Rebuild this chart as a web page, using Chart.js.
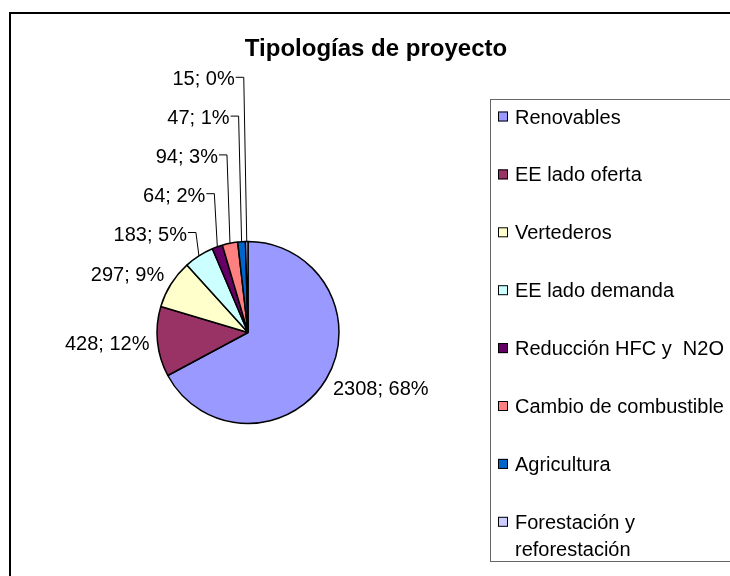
<!DOCTYPE html>
<html>
<head>
<meta charset="utf-8">
<title>Tipologías de proyecto</title>
<script src="https://cdn.jsdelivr.net/npm/chart.js@4.4.1/dist/chart.umd.min.js"></script>
<style>
  html, body { margin: 0; padding: 0; background: #fff; }
  canvas { display: block; }
</style>
</head>
<body>
<canvas id="chart" width="730" height="576"></canvas>
<script>
// datos
const tipologias = [
  "Renovables",
  "EE lado oferta",
  "Vertederos",
  "EE lado demanda",
  "Reducción HFC y  N2O",
  "Cambio de combustible",
  "Agricultura",
  "Forestación y reforestación"
];
const proyectos = [2308, 428, 297, 183, 64, 94, 47, 15];
const porcentajes = [68, 12, 9, 5, 2, 3, 1, 0]; // tal como salen en el gráfico
const colores = ["#9999FF", "#993366", "#FFFFCC", "#CCFFFF", "#660066", "#FF8080", "#0066CC", "#CCCCFF"];

const FUENTE = "'Liberation Sans', Arial, sans-serif";

// marco exterior y título
const marco = {
  id: "marco",
  beforeDraw(chart) {
    const ctx = chart.ctx;
    ctx.save();
    ctx.fillStyle = "#fff";
    ctx.fillRect(0, 0, chart.width, chart.height);
    ctx.strokeStyle = "#000";
    ctx.lineWidth = 2;
    ctx.strokeRect(10, 13, chart.width, chart.height);
    ctx.fillStyle = "#000";
    ctx.font = "bold 24px " + FUENTE;
    ctx.textAlign = "center";
    ctx.textBaseline = "alphabetic";
    ctx.fillText("Tipologías de proyecto", 376, 56);
    ctx.restore();
  }
};

// etiquetas "valor; %" con líneas guía para los sectores chicos
const etiquetas = {
  id: "etiquetas",
  afterDatasetsDraw(chart) {
    const ctx = chart.ctx;
    const arcs = chart.getDatasetMeta(0).data;
    const total = proyectos.reduce((a, b) => a + b, 0);
    const cx = arcs[0].x;
    const cy = arcs[0].y;
    const r = arcs[0].outerRadius;
    ctx.save();
    ctx.font = "20px " + FUENTE;
    ctx.fillStyle = "#000";
    ctx.strokeStyle = "#000";
    ctx.lineWidth = 1;
    ctx.textBaseline = "alphabetic";

    let fila = 0;
    arcs.forEach((arc, i) => {
      const texto = proyectos[i] + "; " + porcentajes[i] + "%";
      const medio = (arc.startAngle + arc.endAngle) / 2;
      const dx = Math.cos(medio);
      const dy = Math.sin(medio);
      const bx = cx + dx * r;
      const by = cy + dy * r;

      if (proyectos[i] / total >= 0.06) {
        // al lado del borde
        const px = bx + dx * 8;
        const py = by + dy * 8 + dy * 10;
        ctx.textAlign = dx < 0 ? "right" : "left";
        ctx.fillText(texto, px, py + 7);
      } else {
        // apiladas arriba, con línea guía
        const yFila = cy - r - 8 - fila * 38.8;
        const codoX = bx - 3;
        const codoY = yFila - 1;
        ctx.beginPath();
        ctx.moveTo(bx, by);
        ctx.lineTo(codoX, codoY);
        ctx.lineTo(codoX - 8, codoY);
        ctx.stroke();
        ctx.textAlign = "right";
        ctx.fillText(texto, codoX - 9, yFila + 7);
        fila++;
      }
    });
    ctx.restore();
  }
};

// leyenda con recuadro
const leyenda = {
  id: "leyenda",
  afterDraw(chart) {
    const ctx = chart.ctx;
    ctx.save();
    ctx.strokeStyle = "#666";
    ctx.lineWidth = 1;
    ctx.strokeRect(490.5, 99.5, 300, 462);
    ctx.font = "20px " + FUENTE;
    ctx.textAlign = "left";
    ctx.textBaseline = "alphabetic";

    chart.data.labels.forEach((label, i) => {
      const y = 123.5 + i * 57.9;
      ctx.fillStyle = colores[i];
      ctx.fillRect(498, y - 12, 10, 10);
      ctx.strokeStyle = "#000";
      ctx.strokeRect(498.5, y - 11.5, 9, 9);

      // partir en líneas si no cabe
      const palabras = label.split(" ");
      const lineas = [];
      let actual = "";
      palabras.forEach(p => {
        const prueba = actual === "" ? p : actual + " " + p;
        if (ctx.measureText(prueba).width > 215 && actual !== "") {
          lineas.push(actual);
          actual = p;
        } else {
          actual = prueba;
        }
      });
      lineas.push(actual);

      ctx.fillStyle = "#000";
      lineas.forEach((l, k) => ctx.fillText(l, 515, y + k * 27));
    });
    ctx.restore();
  }
};

new Chart(document.getElementById("chart"), {
  type: "pie",
  data: {
    labels: tipologias,
    datasets: [{
      data: proyectos,
      backgroundColor: colores,
      borderColor: "#000",
      borderWidth: 1.5,
      radius: 91
    }]
  },
  options: {
    responsive: false,
    animation: false,
    layout: {
      padding: { left: 157, right: 391, top: 241, bottom: 152 }
    },
    plugins: {
      legend: { display: false },
      title: { display: false },
      tooltip: { enabled: false }
    }
  },
  plugins: [marco, etiquetas, leyenda]
});
</script>
</body>
</html>
